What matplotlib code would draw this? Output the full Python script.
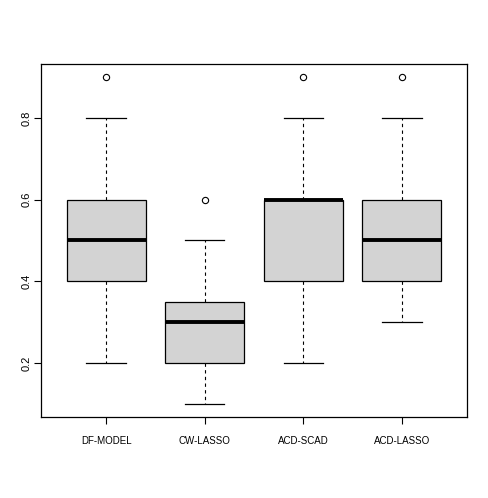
import matplotlib
matplotlib.use("Agg")
import matplotlib.pyplot as plt

plt.rcParams['font.family'] = ['Liberation Sans', 'DejaVu Sans']

labels = ['DF-MODEL', 'CW-LASSO', 'ACD-SCAD', 'ACD-LASSO']
whislo = [0.2, 0.1, 0.2, 0.3]
q1 = [0.4, 0.2, 0.4, 0.4]
med = [0.5, 0.3, 0.6, 0.5]
q3 = [0.6, 0.35, 0.6, 0.6]
whishi = [0.8, 0.5, 0.8, 0.8]
fliers = [[0.9], [0.6], [0.9], [0.9]]

stats = []
for i in range(len(labels)):
    stats.append(dict(label=labels[i], whislo=whislo[i], q1=q1[i], med=med[i],
                      q3=q3[i], whishi=whishi[i], fliers=fliers[i]))

fig = plt.figure(figsize=(4.88, 4.98), dpi=100)
ax = fig.add_axes([0.084, 0.1627, 0.873, 0.7088])

ax.bxp(stats, positions=[1, 2, 3, 4], widths=0.8, patch_artist=True,
       boxprops=dict(facecolor='#d3d3d3', edgecolor='black', linewidth=0.9),
       medianprops=dict(color='black', linewidth=2.8, solid_capstyle='butt'),
       whiskerprops=dict(color='black', linestyle=(0, (3, 3)), linewidth=0.8),
       capprops=dict(color='black', linewidth=0.9),
       capwidths=0.4,
       flierprops=dict(marker='o', markerfacecolor='none', markeredgecolor='black',
                       markersize=4.5, markeredgewidth=0.8))

ax.set_xlim(0.34, 4.66)
ax.set_ylim(0.068, 0.932)
ax.set_yticks([0.2, 0.4, 0.6, 0.8])
ax.set_yticklabels(['0.2', '0.4', '0.6', '0.8'], rotation=90, va='center')
ax.tick_params(axis='both', direction='out', length=5, width=0.8)
ax.tick_params(axis='y', pad=2, labelsize=8)
ax.tick_params(axis='x', pad=9, labelsize=7)
for s in ax.spines.values():
    s.set_linewidth(0.9)

fig.savefig('out.png', dpi=100)
